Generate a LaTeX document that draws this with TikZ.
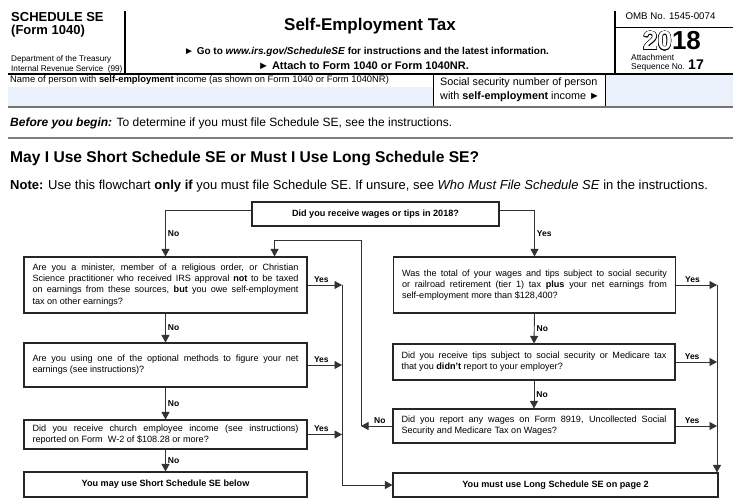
\documentclass[tikz,border=0pt]{standalone}
\usepackage{fontspec}
\setmainfont{Liberation Sans}
\usepackage{tikz}
\usepackage{contour}
\usetikzlibrary{arrows.meta, calc}
\contourlength{0.45pt}
\definecolor{formblue}{RGB}{234,241,251}
\newcommand{\fs}[1]{\fontsize{#1}{1.2\dimexpr#1pt\relax}\selectfont}
\hyphenpenalty=10000
\exhyphenpenalty=10000

\begin{document}
\begin{tikzpicture}[x=1pt, y=-1pt,
    qbox/.style={draw=black!85, line width=1.1pt, text width=266pt, inner xsep=8.5pt, inner ysep=2pt, align=justify, font=\fontsize{9.1}{11.2}\selectfont},
    rbox/.style={qbox, text width=265pt},
    endbox/.style={draw=black!85, line width=1.1pt, align=center, font=\fontsize{9.1}{11}\selectfont\bfseries},
    flow/.style={draw=black!80, line width=0.9pt, -{Triangle[length=7.5pt, width=8pt]}},
    ans/.style={font=\fontsize{8.5}{10}\selectfont\bfseries, inner sep=2pt},
    txt/.style={inner sep=0pt, anchor=base west}]
    \useasboundingbox (0,0) rectangle (733,502);

    \fill[formblue] (8,87) rectangle (433,106);
    \fill[formblue] (605,75) rectangle (733,106);
    \draw[line width=1.5pt] (125,11) -- (125,74);
    \draw[line width=1.5pt] (615,11) -- (615,74);
    \draw[line width=0.8pt] (615,27) -- (733,27);
    \draw[line width=1.5pt] (8,74) -- (733,74);
    \draw[line width=0.9pt] (433,74) -- (433,107) (605,74) -- (605,107);
    \draw[line width=1.4pt, black!55] (8,107) -- (733,107);
    \draw[line width=1.8pt, black!50] (8,138) -- (733,138);

    \node[txt, font=\fs{13}\bfseries] (sched) at (11,22) {SCHEDULE SE};
    \node[txt, font=\fs{13}\bfseries] (form) at (11,35) {(Form 1040)};
    \node[txt, font=\fs{8.2}] (dept) at (11,62) {Department of the Treasury};
    \node[txt, font=\fs{8.2}] (irs) at (11,72) {Internal Revenue Service\ \ (99)};
    \node[inner sep=0pt, anchor=base, font=\fs{17}\bfseries] (title) at (370,31) {Self-Employment Tax};
    \node[inner sep=0pt, anchor=base, font=\fs{10}\bfseries] (goto) at (366.5,55) {► Go to \textit{www.irs.gov/ScheduleSE} for instructions and the latest information.};
    \node[inner sep=0pt, anchor=base, font=\fs{11}\bfseries] (attach) at (363.5,70) {► Attach to Form 1040 or Form 1040NR.};
    \node[inner sep=0pt, anchor=base, font=\fs{9.7}] (omb) at (670.5,20) {OMB No. 1545-0074};
    \node[inner sep=0pt, anchor=base, font=\fs{26}\bfseries] (year) at (672,50) {\contour{black}{\textcolor{white}{20}}18};
    \node[txt, font=\fs{8.5}] (seqa) at (631,61) {Attachment};
    \node[txt, font=\fs{8.5}] (seqb) at (631,70) {Sequence No. {\fs{14}\bfseries 17}};
    \node[txt, font=\fs{9.4}] (name) at (10,83) {Name of person with \textbf{self-employment} income (as shown on Form 1040 or Form 1040NR)};
    \node[txt, font=\fs{10.8}] (ssna) at (440,86) {Social security number of person};
    \node[txt, font=\fs{10.8}] (ssnb) at (440,100) {with \textbf{self-employment} income ►};
    \node[txt, font=\fs{12}] (begin) at (10,127) {\textbf{\textit{Before you begin:}} To determine if you must file Schedule SE, see the instructions.};
    \node[txt, font=\fs{15.6}\bfseries] (head) at (10,163) {May I Use Short Schedule SE or Must I Use Long Schedule SE?};
    \node[txt, font=\fs{13}] (note) at (10,190) {\textbf{Note:} Use this flowchart \textbf{only if} you must file Schedule SE. If unsure, see \textit{Who Must File Schedule SE} in the instructions.};

    \node[endbox, minimum width=247pt, minimum height=24pt] (wages) at (375.5,214) {Did you receive wages or tips in 2018?};
    \node[qbox, minimum height=56pt] (minister) at (165.5,285) {Are you a minister, member of a religious order, or Christian\linebreak Science practitioner who received IRS approval \textbf{not} to be taxed\linebreak on earnings from these sources, \textbf{but} you owe self-employment\linebreak tax on other earnings?};
    \node[qbox, minimum height=44pt] (optional) at (165.5,365) {Are you using one of the optional methods to figure your net\linebreak earnings (see instructions)?};
    \node[qbox, minimum height=29pt] (church) at (165.5,434.5) {Did you receive church employee income (see instructions)\linebreak reported on Form\ \ W-2 of \$108.28 or more?};
    \node[endbox, minimum width=283pt, minimum height=25pt] (short) at (165.5,484.5) {You may use Short Schedule SE below};
    \node[rbox, minimum height=56pt] (total) at (534.5,285) {Was the total of your wages and tips subject to social security\linebreak or railroad retirement (tier 1) tax \textbf{plus} your net earnings from\linebreak self-employment more than \$128,400?};
    \node[rbox, minimum height=36pt] (tips) at (534,362) {Did you receive tips subject to social security or Medicare tax\linebreak that you \textbf{didn't} report to your employer?};
    \node[rbox, minimum height=34pt] (wage8919) at (534,426) {Did you report any wages on Form 8919, Uncollected Social\linebreak Security and Medicare Tax on Wages?};
    \node[endbox, minimum width=325pt, minimum height=24pt] (long) at (555.5,485) {You must use Long Schedule SE on page 2};

    \coordinate (lbus) at (342,285);
    \coordinate (rbus) at (717,286);
    \coordinate (back) at (361,240);
    \coordinate (mtop) at ($(minister.north east)+(-33,0)$);

    \draw[flow] ([yshift=4pt]wages.west) -| node[ans, right, pos=0.75] {No} (minister.north);
    \draw[flow] ([yshift=4pt]wages.east) -| node[ans, right, pos=0.75] {Yes} (total.north);
    \draw[flow] (minister.south) -- node[ans, right] {No} (optional.north);
    \draw[flow] (optional.south) -- node[ans, right] {No} (church.north);
    \draw[flow] (church.south) -- node[ans, right] {No} (short.north);
    \draw[flow] (total.south) -- node[ans, right] {No} (tips.north);
    \draw[flow] (tips.south) -- node[ans, right] {No} (wage8919.north);
    \draw[flow] (minister.east) -- node[ans, above, pos=0.4] {Yes} (minister.east -| lbus);
    \draw[flow] (optional.east) -- node[ans, above, pos=0.4] {Yes} (optional.east -| lbus);
    \draw[flow] (church.east) -- node[ans, above, pos=0.4] {Yes} (church.east -| lbus);
    \draw[flow] (minister.east -| lbus) |- (long.west);
    \draw[flow] (total.east) -- node[ans, above, pos=0.4] {Yes} (total.east -| rbus);
    \draw[flow] (tips.east) -- node[ans, above, pos=0.4] {Yes} (tips.east -| rbus);
    \draw[flow] (wage8919.east) -- node[ans, above, pos=0.4] {Yes} (wage8919.east -| rbus);
    \draw[flow] (total.east -| rbus) -- (long.north -| rbus);
    \draw[flow] (wage8919.west) -- node[ans, above, pos=0.4] {No} (wage8919.west -| back);
    \draw[flow] (wage8919.west -| back) -- (back) -| (mtop);
\end{tikzpicture}
\end{document}
